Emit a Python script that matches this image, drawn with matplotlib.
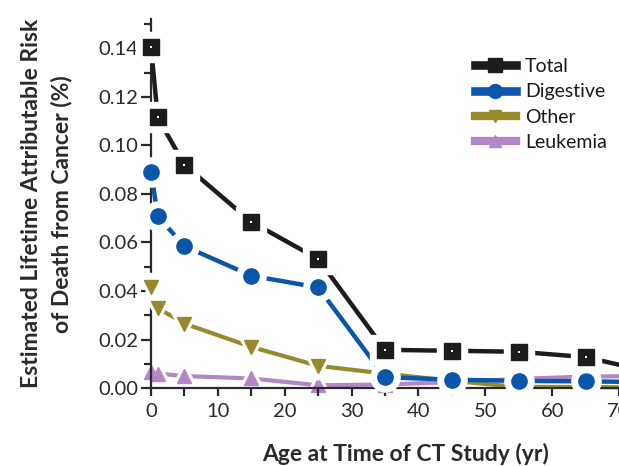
import matplotlib
matplotlib.use("Agg")
import matplotlib.pyplot as plt
from matplotlib.ticker import MultipleLocator, FormatStrFormatter

plt.rcParams['font.family'] = ['Lato', 'DejaVu Sans']

# Age at time of CT study (yr)
ages = [0, 1, 5, 15, 25, 35, 45, 55, 65, 75]

# Estimated lifetime attributable risk of death from cancer (%)
total     = [0.1405, 0.1115, 0.0920, 0.0685, 0.0532, 0.0158, 0.0154, 0.0150, 0.0128, 0.0065]
digestive = [0.0892, 0.0708, 0.0585, 0.0463, 0.0415, 0.0045, 0.0035, 0.0030, 0.0028, 0.0025]
other     = [0.0418, 0.0330, 0.0266, 0.0170, 0.0092, 0.0060, 0.0030, 0.0005, 0.0005, 0.0002]
leukemia  = [0.0068, 0.0060, 0.0050, 0.0040, 0.0012, 0.0015, 0.0025, 0.0038, 0.0048, 0.0050]

series = [
    ("Total",     total,     "#1c1c1c", "s", 11, 3.2),
    ("Digestive", digestive, "#0a56aa", "o", 11, 3.2),
    ("Other",     other,     "#978a2c", "v", 10, 3.0),
    ("Leukemia",  leukemia,  "#b386c6", "^", 10, 3.0),
]

fig = plt.figure(figsize=(6.19, 4.66), dpi=100)
ax = fig.add_axes([0.244, 0.167, 0.756, 0.792])

handles = []
z = 10
for name, vals, col, mk, ms, lw in series:
    ax.plot(ages, vals, color=col, lw=lw, solid_capstyle="butt",
            clip_on=False, zorder=z)
    # white halo leaves a gap in the line around each marker
    ax.plot(ages, vals, ls="none", marker=mk, ms=ms + 10, color="white",
            markeredgecolor="white", clip_on=False, zorder=z + 1)
    ax.plot(ages, vals, ls="none", marker=mk, ms=ms, color=col,
            markeredgecolor=col, clip_on=False, zorder=z + 2)
    if mk == "s":
        ax.plot(ages, vals, ls="none", marker="s", ms=1.5, color="white",
                markeredgewidth=0, clip_on=False, zorder=z + 3)
    h, = ax.plot([], [], color=col, lw=lw + 3, marker=mk, ms=ms - 1,
                 markeredgecolor=col, label=name)
    handles.append(h)
    z -= 4

ax.set_xlim(0, 70)
ax.set_ylim(0, 0.152)
ax.xaxis.set_major_locator(MultipleLocator(10))
ax.xaxis.set_minor_locator(MultipleLocator(5))
ax.yaxis.set_major_locator(MultipleLocator(0.02))
ax.yaxis.set_minor_locator(MultipleLocator(0.01))
ax.yaxis.set_major_formatter(FormatStrFormatter("%.2f"))

for s in ["top", "right"]:
    ax.spines[s].set_visible(False)
for s in ["left", "bottom"]:
    ax.spines[s].set_linewidth(1.6)
    ax.spines[s].set_color("#2a2a2a")

ax.tick_params(which="major", direction="out", length=7, width=1.6,
               color="#2a2a2a", labelsize=14.5, labelcolor="#2a2a2a", pad=2)
ax.tick_params(which="minor", direction="out", length=5, width=1.6,
               color="#2a2a2a")
ax.tick_params(axis="x", which="both", length=6, pad=5)

ax.set_xlabel("Age at Time of CT Study (yr)", fontsize=16.5,
              fontweight="bold", color="#2a2a2a")
ax.xaxis.set_label_coords(0.543, -0.148)
ax.set_ylabel("Estimated Lifetime Attributable Risk\nof Death from Cancer (%)",
              fontsize=16.5, fontweight="bold", color="#2a2a2a",
              labelpad=19, linespacing=1.45)

leg = ax.legend(handles=handles, loc="upper left",
                bbox_to_anchor=(0.675, 0.915), frameon=False, fontsize=14,
                handlelength=2.1, handletextpad=0.5, labelspacing=0.42,
                borderaxespad=0)
for t in leg.get_texts():
    t.set_color("#1a1a1a")

fig.savefig("out.png", dpi=100)
